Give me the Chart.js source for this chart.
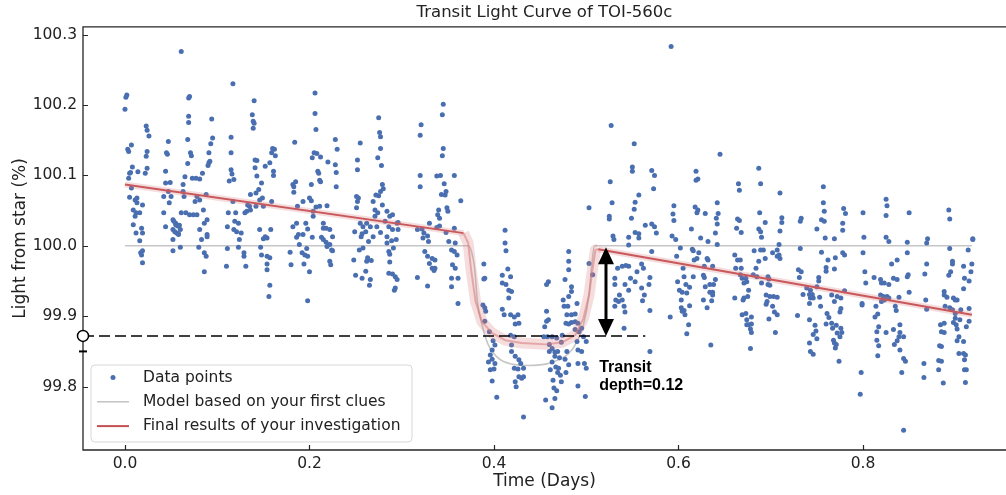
<!DOCTYPE html>
<html lang="en">
<head>
<meta charset="UTF-8">
<title>Transit Light Curve of TOI-560c</title>
<script src="https://cdn.jsdelivr.net/npm/chart.js"></script>
<style>
  html, body { margin: 0; padding: 0; background: #fff; }
  #lightCurve { display: block; }
</style>
</head>
<body>
<canvas id="lightCurve" width="1006" height="495"></canvas>
<script>
// axis limits: time in days, light in percent
const xMin = -0.0455, xMax = 0.955;
const yMin = 99.71, yMax = 100.311;

const preTransit = [
  [0.001,100.211],[0.002,100.214],[0.000,100.194],[0.003,100.137],[0.004,100.134],[0.007,100.143],[0.008,100.112],[0.005,100.103],
  [0.004,100.096],[0.006,100.104],[0.007,100.082],[0.005,100.069],[0.011,100.065],[0.013,100.061],[0.009,100.051],[0.012,100.047],
  [0.016,100.047],[0.011,100.042],[0.009,100.030],[0.012,100.018],[0.018,100.025],[0.019,100.018],[0.013,100.068],[0.019,100.058],
  [0.016,100.007],[0.019,99.993],[0.018,99.987],[0.019,99.976],[0.017,99.990],
  [0.023,100.170],[0.024,100.164],[0.026,100.156],[0.024,100.134],[0.023,100.127],[0.024,100.110],[0.022,100.103],[0.014,100.105],
  [0.047,100.148],[0.045,100.132],[0.046,100.130],[0.044,100.106],[0.044,100.089],[0.049,100.090],[0.047,100.077],[0.050,100.070],
  [0.048,100.061],[0.042,100.070],[0.042,100.047],[0.044,100.027],[0.052,100.037],[0.055,100.032],[0.052,100.023],[0.056,100.018],
  [0.060,100.023],[0.052,100.009],[0.052,99.993],[0.060,99.998],[0.058,100.016],
  [0.053,100.035],[0.055,100.030],[0.057,100.028],[0.054,100.020],[0.058,100.017],[0.059,100.029],
  [0.061,100.276],[0.069,100.210],[0.070,100.212],[0.069,100.184],[0.069,100.175],[0.068,100.151],[0.071,100.132],[0.072,100.128],
  [0.068,100.117],[0.065,100.098],[0.063,100.087],[0.063,100.077],[0.064,100.070],[0.061,100.047],[0.066,100.047],[0.070,100.044],
  [0.073,100.096],[0.077,100.096],[0.081,100.095],[0.078,100.070],[0.081,100.065],[0.076,100.063],[0.074,100.044],[0.078,100.044],
  [0.084,100.103],[0.088,100.073],[0.080,99.998],[0.086,99.990],[0.088,99.985],[0.086,99.963],[0.089,100.016],[0.083,100.009],
  [0.094,100.180],[0.095,100.153],[0.093,100.145],[0.091,100.132],[0.091,100.118],[0.092,100.120],[0.090,100.114],[0.085,100.051],
  [0.089,100.037],[0.086,100.032],[0.081,100.023],[0.089,100.013],
  [0.117,100.230],[0.115,100.154],[0.115,100.132],[0.115,100.108],[0.116,100.102],[0.113,100.092],[0.118,100.094],[0.117,100.063],
  [0.112,100.047],[0.120,100.047],[0.119,100.035],[0.118,100.023],[0.121,100.020],[0.123,100.032],[0.111,100.027],[0.126,100.018],
  [0.111,99.996],[0.110,99.971],[0.123,99.998],[0.129,99.990],[0.129,99.985],[0.131,99.971],[0.124,100.009],
  [0.140,100.206],[0.138,100.186],[0.139,100.177],[0.140,100.174],[0.139,100.167],[0.141,100.122],[0.143,100.121],[0.141,100.111],
  [0.143,100.099],[0.145,100.080],[0.148,100.089],[0.142,100.075],[0.146,100.065],[0.136,100.073],[0.133,100.058],[0.135,100.056],
  [0.136,100.051],[0.132,100.049],[0.130,100.047],[0.142,100.056],[0.150,100.056],[0.149,100.068],[0.152,100.113],[0.157,100.118],
  [0.159,100.063],[0.158,100.023],[0.146,100.023],[0.152,100.013],
  [0.147,99.998],[0.148,99.987],[0.154,99.985],[0.157,99.983],[0.154,99.974],[0.154,99.966],[0.157,99.944],[0.156,99.928],
  [0.150,100.010],[0.154,100.011],
  [0.160,100.138],[0.162,100.137],[0.159,100.132],[0.163,100.128],[0.161,100.106],[0.161,100.100],
  [0.184,100.147],[0.185,100.091],[0.182,100.087],[0.183,100.084],[0.183,100.076],[0.187,100.056],[0.193,100.063],[0.196,100.032],
  [0.186,100.032],[0.182,100.027],[0.188,100.016],[0.198,100.024],[0.193,100.016],
  [0.179,99.991],[0.180,99.973],[0.186,100.012],[0.189,100.002],[0.192,99.990],[0.195,99.987],[0.194,99.974],[0.198,99.985],
  [0.200,99.963],[0.198,99.922],[0.197,99.996],[0.203,100.012],
  [0.206,100.217],[0.206,100.188],[0.207,100.165],[0.205,100.132],[0.203,100.125],[0.208,100.131],[0.212,100.126],[0.209,100.106],
  [0.210,100.103],[0.211,100.093],[0.212,100.091],[0.202,100.087],[0.200,100.068],[0.202,100.064],[0.204,100.049],[0.204,100.042],
  [0.207,100.055],[0.211,100.056],[0.219,100.057],[0.215,100.032],[0.218,100.025],[0.222,100.023],[0.215,100.025],[0.225,100.013],
  [0.228,100.151],[0.230,100.137],[0.220,100.119],[0.228,100.115],[0.229,100.104],[0.229,100.084],
  [0.213,100.012],[0.218,100.005],[0.222,100.002],[0.219,99.999],[0.224,99.994],[0.225,99.993],[0.222,99.978],[0.223,99.973],
  [0.215,100.009],
  [0.255,100.146],[0.252,100.122],[0.252,100.108],[0.251,100.070],[0.253,100.068],[0.252,100.063],[0.251,100.054],[0.249,100.020],
  [0.255,100.032],[0.258,100.027],[0.262,100.032],[0.266,100.027],[0.261,100.020],[0.256,100.013],[0.257,100.017],
  [0.248,99.980],[0.250,99.958],[0.254,99.994],[0.258,99.997],[0.257,99.954],[0.262,99.978],[0.261,99.964],[0.263,99.983],
  [0.266,99.952],[0.265,99.944],[0.267,99.979],[0.264,100.006],[0.269,100.013],
  [0.275,100.182],[0.276,100.161],[0.277,100.155],[0.277,100.138],[0.274,100.125],[0.278,100.114],[0.279,100.087],[0.280,100.081],
  [0.277,100.077],[0.272,100.072],[0.275,100.071],[0.269,100.063],[0.271,100.051],[0.274,100.047],[0.284,100.049],[0.279,100.058],
  [0.282,100.035],[0.287,100.042],[0.290,100.044],[0.286,100.027],[0.290,100.023],[0.295,100.032],[0.296,100.023],[0.284,100.013],
  [0.277,100.019],[0.273,100.027],[0.271,100.042],
  [0.284,100.004],[0.286,99.992],[0.287,99.988],[0.287,99.977],[0.286,99.961],[0.290,99.960],[0.293,99.956],[0.295,99.952],
  [0.293,99.940],[0.292,99.937],[0.289,100.007],[0.294,100.009],[0.291,99.997],
  [0.345,100.201],[0.344,100.186],[0.321,100.172],[0.320,100.157],[0.345,100.138],[0.344,100.128],[0.320,100.100],[0.320,100.084],
  [0.338,100.099],[0.342,100.100],[0.357,100.100],[0.346,100.088],[0.348,100.077],[0.343,100.073],[0.347,100.072],[0.364,100.064],
  [0.349,100.054],[0.350,100.049],[0.340,100.051],[0.339,100.044],[0.341,100.039],[0.330,100.032],[0.341,100.028],[0.338,100.026],
  [0.357,100.025],[0.348,100.019],[0.317,100.023],[0.322,100.024],[0.324,100.018],[0.328,100.014],[0.296,100.033],
  [0.317,99.955],[0.328,99.943],[0.323,100.011],[0.325,99.992],[0.328,99.985],[0.333,99.982],[0.336,99.980],[0.333,99.968],
  [0.335,99.965],[0.330,99.975],[0.336,99.968],[0.329,100.006],[0.351,100.006],[0.354,99.994],[0.357,99.992],[0.360,99.987],
  [0.355,99.973],[0.358,99.968],[0.354,99.954],[0.354,99.942],[0.361,99.954],[0.361,99.918],[0.358,100.004]
];

const inTransit = [
  [0.412,100.022],[0.389,99.974],[0.390,99.954],[0.389,99.953],[0.388,99.916],[0.390,99.912],[0.391,99.907],[0.390,99.893],
  [0.395,99.878],[0.399,99.865],[0.401,99.859],[0.398,99.852],[0.396,99.845],[0.398,99.839],[0.394,99.835],[0.401,99.833],
  [0.396,99.824],[0.400,99.825],[0.398,99.808],[0.403,99.785],[0.409,99.910],[0.411,99.902],[0.412,100.004],[0.413,99.993],
  [0.415,99.967],[0.409,99.958],[0.409,99.947],[0.413,99.945],[0.418,99.956],[0.416,99.937],[0.419,99.935],[0.416,99.926],
  [0.418,99.902],[0.422,99.899],[0.426,99.902],[0.423,99.889],[0.427,99.890],[0.419,99.859],[0.419,99.850],[0.423,99.843],
  [0.427,99.838],[0.429,99.833],[0.422,99.826],[0.426,99.825],[0.432,99.826],[0.427,99.814],[0.432,99.814],[0.430,99.812],
  [0.423,99.807],[0.424,99.800],[0.432,99.757],[0.418,99.873],[0.422,99.871],
  [0.457,99.945],[0.459,99.949],[0.457,99.907],[0.459,99.895],[0.454,99.871],[0.458,99.871],[0.463,99.871],[0.460,99.860],
  [0.463,99.854],[0.460,99.850],[0.466,99.849],[0.469,99.850],[0.466,99.843],[0.471,99.841],[0.463,99.835],[0.461,99.824],
  [0.467,99.828],[0.470,99.826],[0.469,99.820],[0.472,99.816],[0.473,99.807],[0.464,99.809],[0.465,99.798],[0.468,99.794],
  [0.466,99.783],[0.456,99.781],[0.463,99.770],[0.477,99.839],[0.479,99.850],[0.481,99.831],[0.478,99.820],[0.491,99.801],
  [0.499,99.786],[0.491,99.833],[0.498,99.833],[0.500,99.826],[0.491,99.852],[0.495,99.850],[0.500,99.864],[0.497,99.871],
  [0.492,99.878],[0.495,99.883],[0.488,99.881],[0.491,99.890],[0.488,99.892],[0.484,99.891],[0.481,99.889],[0.478,99.890],
  [0.479,99.902],[0.484,99.902],[0.488,99.903],[0.480,99.914],[0.490,99.918],[0.476,99.914],[0.475,99.923],[0.481,99.928],
  [0.484,99.935],[0.484,99.942],[0.477,99.952],[0.481,99.966],[0.481,99.978],[0.481,99.992],[0.457,99.893],[0.455,99.885],
  [0.474,99.873],[0.473,99.863],[0.468,99.869],[0.490,99.864],[0.503,99.975],[0.507,99.959]
];

const postTransit = [
  [0.592,100.283],[0.527,100.171],[0.552,100.145],[0.550,100.112],[0.550,100.106],[0.571,100.107],[0.574,100.100],[0.526,100.091],
  [0.573,100.081],[0.557,100.072],[0.553,100.062],[0.528,100.061],[0.552,100.052],[0.503,100.054],[0.525,100.042],[0.525,100.038],
  [0.549,100.039],[0.564,100.029],[0.571,100.031],[0.574,100.027],[0.576,100.018],[0.595,100.057],[0.594,100.045],[0.595,100.036],
  [0.593,100.014],[0.529,100.014],[0.546,100.012],[0.553,100.019],[0.557,100.017],
  [0.530,100.009],[0.531,99.954],[0.531,99.945],[0.532,99.923],[0.531,99.914],[0.535,99.921],[0.539,99.923],[0.541,99.914],
  [0.542,99.906],[0.536,99.930],[0.541,99.883],[0.534,99.968],[0.539,99.971],[0.543,99.972],[0.546,99.971],[0.548,99.954],
  [0.542,99.945],[0.546,99.937],[0.553,99.949],[0.560,99.974],[0.562,99.968],[0.560,99.940],[0.563,99.930],[0.568,99.945],
  [0.569,99.955],[0.561,99.922],[0.569,99.908],[0.555,99.963],[0.571,99.992],[0.546,100.001],[0.557,100.011],[0.591,99.899],
  [0.569,99.850],[0.599,99.949],[0.601,99.937],[0.603,99.923],[0.604,99.907],[0.605,99.968],[0.598,99.985],[0.602,99.997],
  [0.597,100.009],
  [0.645,100.130],[0.619,100.106],[0.619,100.093],[0.621,100.095],[0.618,100.055],[0.621,100.051],[0.620,100.047],[0.629,100.046],
  [0.614,100.024],[0.624,100.011],[0.642,100.061],[0.643,100.046],[0.641,100.039],[0.642,100.031],[0.640,100.018],[0.665,100.088],
  [0.666,100.079],[0.664,100.038],[0.666,100.036],[0.663,100.025],[0.668,100.019],[0.687,100.110],[0.689,100.088],[0.688,100.047],
  [0.694,100.033],[0.687,100.024],[0.689,100.020],[0.690,100.012],[0.710,100.075],[0.712,100.040],[0.712,100.033],[0.710,100.021],
  [0.733,100.039],[0.732,100.035],[0.750,100.024],[0.757,100.084],[0.757,100.061],[0.758,100.049],[0.755,100.037],[0.758,100.035],
  [0.759,100.011],[0.769,100.010],[0.779,100.053],[0.781,100.046],[0.778,100.032],[0.778,100.022],[0.800,100.047],[0.801,100.012],
  [0.825,100.066],[0.826,100.057],[0.825,100.043],[0.825,100.012],[0.850,100.047],[0.870,100.010],[0.893,100.051],[0.894,100.038],
  [0.919,100.010],[0.869,100.004],[0.848,100.005],[0.828,100.006],
  [0.606,99.956],[0.608,99.945],[0.604,99.934],[0.609,99.933],[0.603,99.912],[0.606,99.908],[0.607,99.902],[0.611,99.888],
  [0.609,99.875],[0.612,99.915],[0.612,99.941],
  [0.616,99.993],[0.615,99.995],[0.622,99.990],[0.617,99.980],[0.620,99.982],[0.616,99.956],[0.627,99.958],[0.628,99.955],
  [0.631,99.982],[0.632,99.980],[0.628,99.971],[0.629,99.942],[0.634,99.945],[0.638,99.945],[0.634,99.934],[0.637,99.934],
  [0.637,99.930],[0.627,99.923],[0.636,99.922],[0.631,99.912],[0.640,99.952],[0.635,99.859],[0.637,99.971],[0.642,100.002],
  [0.632,100.006],
  [0.661,99.987],[0.664,99.980],[0.667,99.980],[0.662,99.968],[0.668,99.968],[0.667,99.959],[0.669,99.954],[0.673,99.954],
  [0.674,99.949],[0.671,99.947],[0.661,99.926],[0.670,99.923],[0.671,99.926],[0.675,99.928],[0.669,99.902],[0.673,99.904],
  [0.674,99.895],[0.679,99.899],[0.676,99.888],[0.679,99.889],[0.678,99.882],[0.679,99.877],[0.678,99.854],[0.674,99.888],
  [0.676,99.937],[0.681,99.959],[0.682,99.993],
  [0.684,99.968],[0.685,99.956],[0.687,99.978],[0.689,99.994],[0.692,99.994],[0.690,99.947],[0.694,99.982],[0.697,99.956],
  [0.698,99.953],[0.697,99.945],[0.699,99.944],[0.695,99.930],[0.696,99.921],[0.699,99.928],[0.695,99.917],[0.703,99.928],
  [0.707,99.927],[0.702,99.914],[0.704,99.906],[0.707,99.902],[0.698,99.896],[0.705,99.877],[0.702,99.990],[0.707,99.994],
  [0.709,99.987],[0.707,99.985],[0.710,99.982],[0.709,100.002],
  [0.730,99.966],[0.733,99.963],[0.731,99.955],[0.729,99.901],[0.735,99.931],[0.739,99.940],[0.743,99.937],[0.742,99.931],
  [0.745,99.931],[0.743,99.926],[0.742,99.918],[0.746,99.926],[0.742,99.895],[0.748,99.887],[0.749,99.879],[0.746,99.874],
  [0.750,99.868],[0.742,99.862],[0.743,99.850],[0.746,99.846],[0.752,99.955],[0.752,99.950],[0.750,99.942],[0.753,99.927],
  [0.754,99.914],[0.755,99.991],[0.732,99.996],
  [0.760,99.969],[0.760,99.964],[0.762,99.980],[0.770,99.983],[0.769,99.967],[0.766,99.930],[0.769,99.921],[0.772,99.928],
  [0.776,99.926],[0.780,99.936],[0.761,99.904],[0.763,99.898],[0.760,99.889],[0.766,99.890],[0.767,99.883],[0.771,99.887],
  [0.776,99.883],[0.777,99.877],[0.772,99.876],[0.775,99.871],[0.768,99.866],[0.769,99.862],[0.771,99.860],[0.770,99.855],
  [0.774,99.836],[0.778,99.990],[0.780,99.987],[0.776,99.911],[0.775,99.906],
  [0.800,99.990],[0.802,99.963],[0.803,99.947],[0.799,99.918],[0.799,99.916],[0.798,99.820],[0.797,99.789],
  [0.812,99.955],[0.814,99.914],[0.813,99.899],[0.816,99.903],[0.817,99.885],[0.815,99.878],[0.815,99.866],[0.817,99.858],
  [0.816,99.844],[0.819,99.952],[0.820,99.947],[0.823,99.947],[0.828,99.945],[0.819,99.930],[0.822,99.928],[0.823,99.923],
  [0.820,99.921],[0.826,99.928],[0.828,99.926],[0.833,99.954],[0.837,99.952],[0.831,99.974],[0.837,99.980],[0.825,99.877],
  [0.833,99.881],[0.835,99.914],[0.836,99.908],[0.839,99.927],[0.840,99.888],[0.840,99.877],[0.839,99.871],[0.844,99.871],
  [0.837,99.865],[0.834,99.860],[0.840,99.852],[0.844,99.840],[0.846,99.836],[0.842,99.820],[0.844,99.738],[0.848,99.956],
  [0.849,99.959],[0.850,99.934],[0.848,99.990],
  [0.869,99.974],[0.867,99.960],[0.868,99.923],[0.869,99.910],[0.866,99.833],[0.866,99.813],[0.884,99.888],[0.888,99.890],
  [0.885,99.878],[0.888,99.877],[0.883,99.858],[0.885,99.857],[0.882,99.837],[0.885,99.836],[0.882,99.824],[0.887,99.805],
  [0.888,99.935],[0.891,99.927],[0.889,99.914],[0.888,99.930],[0.894,99.996],[0.897,99.978],[0.897,99.974],[0.893,99.958],
  [0.895,99.963],
  [0.898,99.926],[0.900,99.923],[0.902,99.923],[0.894,99.912],[0.897,99.909],[0.900,99.904],[0.900,99.897],[0.898,99.891],
  [0.901,99.888],[0.906,99.909],[0.905,99.895],[0.902,99.882],[0.904,99.871],[0.902,99.865],[0.909,99.864],[0.904,99.847],
  [0.909,99.847],[0.911,99.845],[0.910,99.838],[0.910,99.824],[0.912,99.824],[0.911,99.806],[0.912,99.885],[0.915,99.893],
  [0.915,99.911],[0.909,99.939],[0.910,99.954],[0.915,99.950],[0.917,99.963],[0.918,99.974],[0.909,99.971],[0.914,99.994],
  [0.919,100.009]
];

// grey model (first clues)
const firstModelT = [0, 0.372, 0.376, 0.379, 0.382, 0.388, 0.394, 0.405, 0.419, 0.437, 0.456, 0.470, 0.481, 0.490, 0.497, 0.503, 0.506, 0.509, 0.918];
const firstModelF = [100.0, 100.0, 99.99, 99.968, 99.921, 99.883, 99.859, 99.840, 99.832, 99.830, 99.832, 99.838, 99.847, 99.864, 99.888, 99.930, 99.973, 100.0, 100.0];

// red model (final results)
const finalModelT = [0, 0.367, 0.372, 0.375, 0.380, 0.387, 0.398, 0.412, 0.430, 0.456, 0.474, 0.488, 0.497, 0.503, 0.507, 0.510, 0.513, 0.918];
const finalModelF = [100.087, 100.018, 100.004, 99.968, 99.921, 99.892, 99.876, 99.866, 99.862, 99.860, 99.863, 99.873, 99.897, 99.930, 99.968, 99.994, 99.995, 99.902];

// transit depth annotation
const depthLevel = 99.872;
const depthLineEnd = 0.564;
const baselineLevel = 99.998;
const arrowTime = 0.5214;
const depthLabel = ['Transit', 'depth=0.12'];
const labelAnchor = [0.514, 99.821];
const capLevel = 99.850;

const toXY = (ts, fs) => ts.map((t, i) => ({x: t, y: fs[i]}));
const allPoints = [...preTransit, ...inTransit, ...postTransit].map(p => ({x: p[0], y: p[1]}));
const inDip = c => c.p0.parsed.x >= 0.367 && c.p1.parsed.x <= 0.513;

Chart.defaults.font.family = "'DejaVu Sans', sans-serif";
Chart.defaults.color = '#222';

// spines and inward ticks, like the matplotlib figure
const frameTicks = {
  id: 'frameTicks',
  beforeDatasetsDraw(chart) {
    const {ctx, chartArea: a, scales: {x, y}} = chart;
    ctx.save();
    ctx.strokeStyle = '#262626';
    ctx.lineWidth = 1.3;
    ctx.beginPath();
    ctx.moveTo(a.right + 2, a.top);
    ctx.lineTo(a.left, a.top);
    ctx.lineTo(a.left, a.bottom);
    ctx.lineTo(a.right + 2, a.bottom);
    ctx.stroke();
    ctx.lineWidth = 1.2;
    ctx.beginPath();
    x.ticks.forEach(t => {
      const px = Math.round(x.getPixelForValue(t.value)) + 0.5;
      ctx.moveTo(px, a.bottom);
      ctx.lineTo(px, a.bottom - 5);
    });
    y.ticks.forEach(t => {
      const py = Math.round(y.getPixelForValue(t.value)) + 0.5;
      ctx.moveTo(a.left, py);
      ctx.lineTo(a.left + 5, py);
    });
    ctx.stroke();
    ctx.restore();
  }
};

const depthArrow = {
  id: 'depthArrow',
  afterDatasetsDraw(chart) {
    const {ctx, scales: {x, y}} = chart;
    const px = x.getPixelForValue(arrowTime);
    const yTop = y.getPixelForValue(baselineLevel);
    const yBot = y.getPixelForValue(depthLevel);
    const head = 17, half = 8;
    ctx.save();
    ctx.fillStyle = '#000';
    ctx.strokeStyle = '#000';
    ctx.lineWidth = 3;
    ctx.beginPath();
    ctx.moveTo(px, yTop + head - 2);
    ctx.lineTo(px, yBot - head + 2);
    ctx.stroke();
    ctx.beginPath();
    ctx.moveTo(px, yTop);
    ctx.lineTo(px - half, yTop + head);
    ctx.lineTo(px + half, yTop + head);
    ctx.closePath();
    ctx.fill();
    ctx.beginPath();
    ctx.moveTo(px, yBot);
    ctx.lineTo(px - half, yBot - head);
    ctx.lineTo(px + half, yBot - head);
    ctx.closePath();
    ctx.fill();
    ctx.font = "bold 16px 'Liberation Sans', Arial, sans-serif";
    ctx.textAlign = 'left';
    ctx.textBaseline = 'alphabetic';
    const lx = x.getPixelForValue(labelAnchor[0]);
    const ly = y.getPixelForValue(labelAnchor[1]);
    depthLabel.forEach((s, i) => ctx.fillText(s, lx, ly + i * 18.5));
    ctx.restore();
  }
};

// legend in the lower left corner of the axes
const cornerLegend = {
  id: 'cornerLegend',
  afterDraw(chart) {
    const {ctx, chartArea: a} = chart;
    const items = chart.data.datasets.filter(d => d.inLegend);
    const left = a.left + 8, w = 321, h = 77;
    const top = a.bottom - 8 - h;
    ctx.save();
    ctx.beginPath();
    ctx.roundRect(left, top, w, h, 4);
    ctx.fillStyle = 'rgba(255,255,255,0.85)';
    ctx.fill();
    ctx.strokeStyle = '#d8d8d8';
    ctx.lineWidth = 1;
    ctx.stroke();
    ctx.font = "15.5px 'DejaVu Sans', sans-serif";
    ctx.textBaseline = 'middle';
    items.forEach((d, i) => {
      const cy = top + 12.5 + i * 24.3;
      if (d.type === 'line') {
        ctx.strokeStyle = d.legendColor || d.borderColor;
        ctx.lineWidth = d.legendWidth || 2;
        ctx.beginPath();
        ctx.moveTo(left + 6, cy);
        ctx.lineTo(left + 38, cy);
        ctx.stroke();
      } else {
        ctx.fillStyle = d.backgroundColor;
        ctx.beginPath();
        ctx.arc(left + 22, cy, 2.5, 0, Math.PI * 2);
        ctx.fill();
      }
      ctx.fillStyle = '#222';
      ctx.fillText(d.label, left + 52, cy);
    });
    ctx.restore();
  }
};

new Chart(document.getElementById('lightCurve'), {
  type: 'scatter',
  data: {
    datasets: [
      {
        label: 'Data points',
        data: allPoints,
        backgroundColor: '#4a6fb0',
        borderWidth: 0,
        pointRadius: 2.5,
        pointHoverRadius: 2.5,
        order: 3,
        inLegend: true
      },
      {
        type: 'line',
        label: 'Model based on your first clues',
        data: toXY(firstModelT, firstModelF),
        borderColor: '#c6c6c6',
        borderWidth: 1.6,
        pointRadius: 0,
        cubicInterpolationMode: 'monotone',
        order: 4,
        inLegend: true,
        legendWidth: 1.6
      },
      {
        type: 'line',
        label: 'posterior band',
        data: toXY(finalModelT, finalModelF),
        borderColor: 'rgba(214,120,120,0.25)',
        borderWidth: 6,
        borderJoinStyle: 'round',
        pointRadius: 0,
        segment: { borderWidth: c => inDip(c) ? 11 : undefined },
        order: 2
      },
      {
        type: 'line',
        label: 'Final results of your investigation',
        data: toXY(finalModelT, finalModelF),
        borderColor: '#c8585b',
        borderWidth: 2,
        borderJoinStyle: 'round',
        pointRadius: 0,
        segment: { borderColor: c => inDip(c) ? 'rgba(215,120,122,0.55)' : undefined },
        order: 1,
        inLegend: true,
        legendColor: '#c44e52'
      },
      {
        type: 'line',
        label: 'depth level',
        data: [{x: xMin, y: depthLevel}, {x: depthLineEnd, y: depthLevel}],
        borderColor: '#000',
        borderWidth: 1.5,
        borderDash: [11, 5],
        pointRadius: [5.5, 0],
        pointBackgroundColor: '#fff',
        pointBorderColor: '#000',
        pointBorderWidth: 1.5,
        clip: false,
        order: 0
      },
      {
        label: 'depth cap',
        data: [{x: xMin, y: capLevel}],
        pointStyle: 'line',
        pointRadius: 4,
        borderColor: '#000',
        borderWidth: 2,
        clip: false,
        order: 0
      }
    ]
  },
  options: {
    responsive: false,
    devicePixelRatio: 1,
    animation: false,
    events: [],
    layout: { padding: 0, autoPadding: false },
    plugins: {
      legend: { display: false },
      tooltip: { enabled: false },
      title: {
        display: true,
        text: 'Transit Light Curve of TOI-560c',
        fullSize: false,
        color: '#222',
        font: { size: 16.5, weight: 'normal' },
        padding: { top: 3, bottom: 4 }
      }
    },
    scales: {
      x: {
        type: 'linear',
        min: xMin,
        max: xMax,
        afterFit: s => { s.height = 45; },
        grid: { display: false, drawTicks: false },
        border: { display: false },
        ticks: {
          stepSize: 0.2,
          includeBounds: false,
          padding: 5,
          maxRotation: 0,
          color: '#222',
          font: { size: 15.5 },
          callback: v => v.toFixed(1)
        },
        title: {
          display: true,
          text: 'Time (Days)',
          color: '#222',
          font: { size: 17 },
          padding: { top: 0, bottom: 3 }
        }
      },
      y: {
        type: 'linear',
        min: yMin,
        max: yMax,
        afterFit: s => { s.width = 83; },
        grid: { display: false, drawTicks: false },
        border: { display: false },
        ticks: {
          stepSize: 0.1,
          includeBounds: false,
          padding: 6,
          color: '#222',
          font: { size: 15.5 },
          callback: v => v.toFixed(1)
        },
        title: {
          display: true,
          text: 'Light from star (%)',
          color: '#222',
          font: { size: 17 },
          padding: { top: 10, bottom: 0 }
        }
      }
    }
  },
  plugins: [frameTicks, depthArrow, cornerLegend]
});
</script>
</body>
</html>
